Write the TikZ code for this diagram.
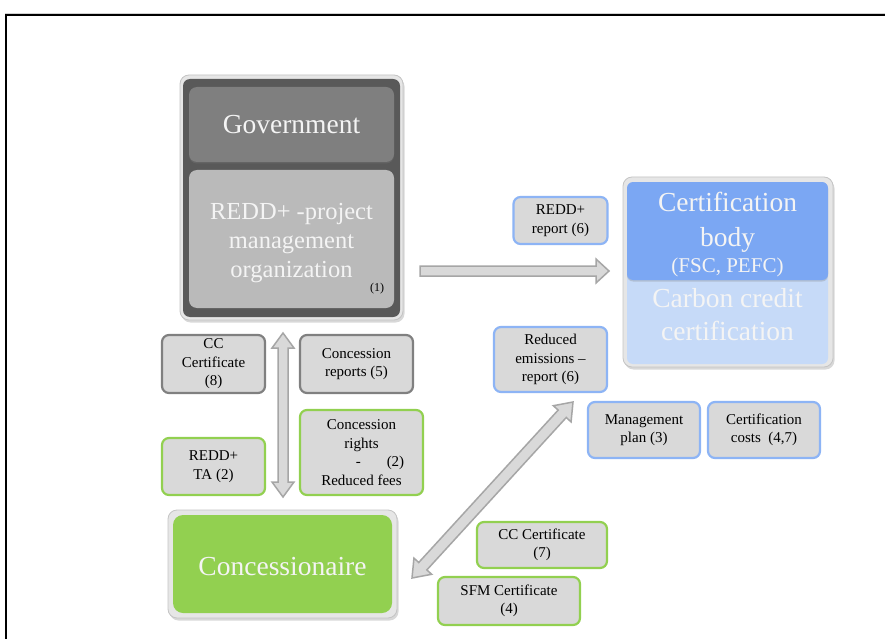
\documentclass[tikz,border=0pt]{standalone}
\usepackage{fontspec}
\setmainfont{Liberation Serif}
\usetikzlibrary{calc,shadows}
\definecolor{darkfill}{HTML}{595959}
\definecolor{govfill}{HTML}{7F7F7F}
\definecolor{reddfill}{HTML}{BABABA}
\definecolor{frameL}{HTML}{E6E6E6}
\definecolor{frameD}{HTML}{C4C4C4}
\definecolor{bluetop}{HTML}{7BA7F3}
\definecolor{bluelight}{HTML}{C6DAF8}
\definecolor{greenfill}{HTML}{92D050}
\definecolor{boxfill}{HTML}{D9D9D9}
\definecolor{blueedge}{HTML}{8DB4F5}
\definecolor{grayedge}{HTML}{808080}
\definecolor{greenedge}{HTML}{92D050}
\definecolor{arrowedge}{HTML}{A6A6A6}
\definecolor{arrowfill}{HTML}{D9D9D9}
\definecolor{paletext}{HTML}{F4F4F4}
\begin{document}
\begin{tikzpicture}[x=1pt,y=-1pt,
  outerframe/.style={draw=frameD, fill=frameL, line width=0.8pt, rounded corners=9pt, inner sep=0pt,
    drop shadow={shadow xshift=1.5pt, shadow yshift=-2.5pt, opacity=0.3}},
  bigbox/.style={rounded corners=8pt, inner sep=0pt, align=center, text=paletext,
    font=\fontsize{27.5}{31}\selectfont},
  smallbox/.style={rounded corners=7pt, fill=boxfill, line width=2.2pt, inner sep=0pt, align=center,
    text=black, font=\fontsize{15}{18.5}\selectfont},
  blueb/.style={smallbox, draw=blueedge},
  grayb/.style={smallbox, draw=grayedge},
  greenb/.style={smallbox, draw=greenedge},
  blockarrow/.style={fill=arrowfill, draw=arrowedge, line width=1.5pt, line join=miter}
]
\useasboundingbox (0,0) rectangle (885,639);
\fill[white] (0,0) rectangle (885,639);
% page frame
\draw[gray!35, line width=0.8pt] (885,13) -- (5,13);
\draw[black, line width=2pt] (885,15) -- (6,15) -- (6,639);

% Government group
\node[outerframe, minimum width=223pt, minimum height=245pt] (govouter) at (291.5,197.5) {};
\node[fill=darkfill, rounded corners=7pt, minimum width=217pt, minimum height=238pt, inner sep=0pt] (govinner) at (291.5,198) {};
\node[bigbox, fill=govfill, minimum width=205pt, minimum height=75pt,
  drop shadow={shadow xshift=0pt, shadow yshift=-1.5pt, opacity=0.3}] (gov) at (291.5,124.5) {Government};
\node[fill=reddfill, rounded corners=8pt, minimum width=205pt, minimum height=138pt, inner sep=0pt] (redd) at (291.5,239) {};
\node[bigbox, font=\fontsize{24.5}{29}\selectfont] (reddtext) at (291.5,243.5) {REDD+ -project\\management\\organization};
\node[font=\fontsize{12}{14}\selectfont, inner sep=0pt] (one) at (377,289) {(1)};

% Certification group
\node[outerframe, minimum width=210pt, minimum height=190pt] (certouter) at (728,272) {};
\node[bigbox, fill=bluelight, rounded corners=6pt, minimum width=201pt, minimum height=99pt,
  font=\fontsize{27.5}{33}\selectfont] (carbon) at (727.5,314.5) {Carbon credit\\certification};
\node[fill=bluetop, rounded corners=6pt, minimum width=201pt, minimum height=98pt, inner sep=0pt,
  drop shadow={shadow xshift=0pt, shadow yshift=-1.5pt, opacity=0.3}] (certbody) at (727.5,231) {};
\node[bigbox] (certtext) at (727.5,235)
  {Certification\\[4pt]body\\[-5pt]{\fontsize{21}{24}\selectfont (FSC, PEFC)}};

% Concessionaire
\node[outerframe, minimum width=229pt, minimum height=108pt] (concouter) at (282.5,564) {};
\node[bigbox, fill=greenfill, rounded corners=10pt, minimum width=219pt, minimum height=98pt] (conc) at (282.5,564) {};
\node[bigbox] (conctext) at (282.5,566.5) {Concessionaire};

% small boxes
\node[blueb, minimum width=94pt, minimum height=47pt] (r6) at (560.5,220.5) {REDD+\\report (6)};
\node[blueb, minimum width=113pt, minimum height=65pt] (re6) at (550.5,359.5) {Reduced\\emissions –\\report (6)};
\node[blueb, minimum width=112pt, minimum height=56pt] (mp3) at (644,430) {Management\\plan (3)};
\node[blueb, minimum width=112pt, minimum height=56pt] (cc47) at (764,430) {Certification\\costs\ \ (4,7)};
\node[grayb, minimum width=103pt, minimum height=58pt] (cc8) at (213.5,364) {CC\\Certificate\\(8)};
\node[grayb, minimum width=113pt, minimum height=58pt] (cr5) at (356.5,364) {Concession\\reports (5)};
\node[greenb, minimum width=103pt, minimum height=57pt] (ta2) at (213.5,466.5) {REDD+\\TA (2)};
\node[greenb, minimum width=123pt, minimum height=85pt] (crf) at (361.5,452.5)
  {Concession\\rights\\\hspace*{37pt}-\hspace{26pt}(2)\\Reduced fees};
\node[greenb, minimum width=130pt, minimum height=46pt] (cc7) at (542,545) {CC Certificate\\(7)};
\node[greenb, minimum width=142pt, minimum height=48pt] (sfm4) at (509,601) {SFM Certificate\\(4)};

% arrow end points
\coordinate (hA) at (420,271);
\coordinate (hB) at (609,271);
\coordinate (vA) at (283,333);
\coordinate (vB) at (283,497);
\coordinate (dA) at (412,578);
\coordinate (dB) at (573,402);

% horizontal single block arrow (REDD+ org -> certification)
\coordinate (hB1) at ($(hB)!13pt!(hA)$);
\draw[blockarrow] ($(hA)!5pt!90:(hB)$) -- ($(hB1)!5pt!-90:(hA)$) -- ($(hB1)!12pt!-90:(hA)$) -- (hB)
  -- ($(hB1)!12pt!90:(hA)$) -- ($(hB1)!5pt!90:(hA)$) -- ($(hA)!5pt!-90:(hB)$) -- cycle;

% vertical double block arrow
\coordinate (vA1) at ($(vA)!15pt!(vB)$);
\coordinate (vB1) at ($(vB)!15pt!(vA)$);
\draw[blockarrow] (vA) -- ($(vA1)!11pt!90:(vB)$) -- ($(vA1)!5pt!90:(vB)$) -- ($(vB1)!5pt!-90:(vA)$)
  -- ($(vB1)!11pt!-90:(vA)$) -- (vB) -- ($(vB1)!11pt!90:(vA)$) -- ($(vB1)!5pt!90:(vA)$)
  -- ($(vA1)!5pt!-90:(vB)$) -- ($(vA1)!11pt!-90:(vB)$) -- cycle;

% diagonal double block arrow
\coordinate (dA1) at ($(dA)!16pt!(dB)$);
\coordinate (dB1) at ($(dB)!16pt!(dA)$);
\draw[blockarrow] (dA) -- ($(dA1)!12pt!90:(dB)$) -- ($(dA1)!5.5pt!90:(dB)$) -- ($(dB1)!5.5pt!-90:(dA)$)
  -- ($(dB1)!12pt!-90:(dA)$) -- (dB) -- ($(dB1)!12pt!90:(dA)$) -- ($(dB1)!5.5pt!90:(dA)$)
  -- ($(dA1)!5.5pt!-90:(dB)$) -- ($(dA1)!12pt!-90:(dB)$) -- cycle;
\end{tikzpicture}
\end{document}
